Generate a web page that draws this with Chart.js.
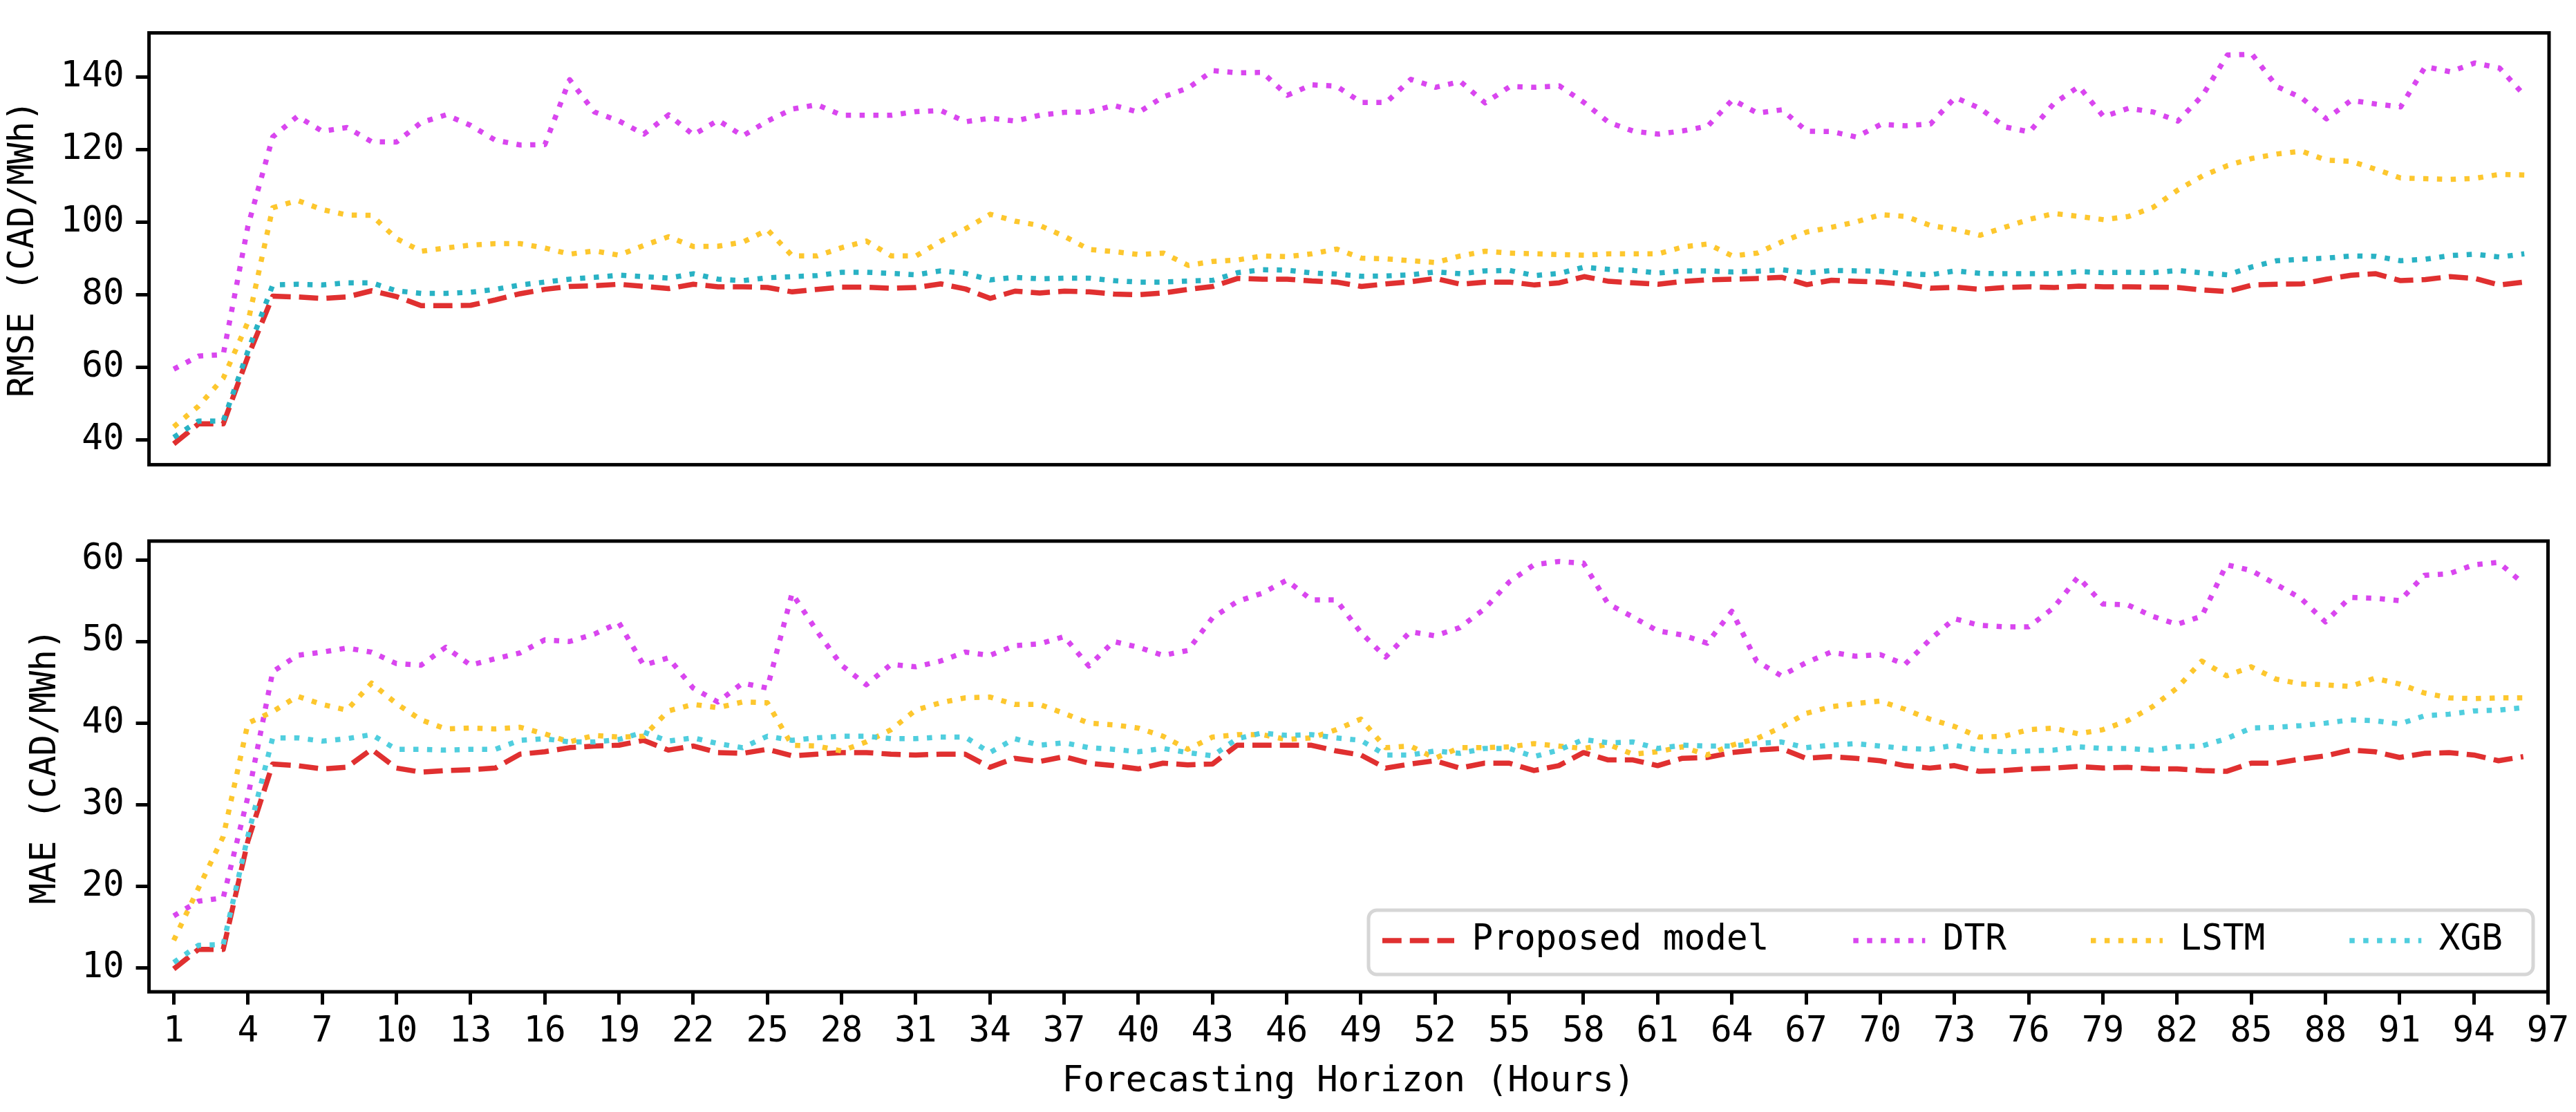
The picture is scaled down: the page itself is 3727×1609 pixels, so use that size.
<!DOCTYPE html>
<html>
<head>
<meta charset="utf-8">
<script src="https://cdn.jsdelivr.net/npm/chart.js@4.4.1/dist/chart.umd.min.js"></script>
<style>
html, body { margin: 0; padding: 0; background: #ffffff; }
#wrap { position: relative; width: 3727px; height: 1609px; overflow: hidden; background: #ffffff; }
canvas { position: absolute; left: 0; }
#cTop { top: 0; }
#cBottom { top: 720px; }
</style>
</head>
<body>
<div id="wrap">
  <canvas id="cTop" width="3727" height="720"></canvas>
  <canvas id="cBottom" width="3727" height="889"></canvas>
</div>
<script>
// ---------------- DATA ----------------
const horizons = [1,2,3,4,5,6,7,8,9,10,11,12,13,14,15,16,17,18,19,20,21,22,23,24,25,26,27,28,29,30,31,32,33,34,35,36,37,38,39,40,41,42,43,44,45,46,47,48,49,50,51,52,53,54,55,56,57,58,59,60,61,62,63,64,65,66,67,68,69,70,71,72,73,74,75,76,77,78,79,80,81,82,83,84,85,86,87,88,89,90,91,92,93,94,95,96];
const xTickValues = [1,4,7,10,13,16,19,22,25,28,31,34,37,40,43,46,49,52,55,58,61,64,67,70,73,76,79,82,85,88,91,94,97];
const rmseTickValues = [40,60,80,100,120,140];
const maeTickValues = [10,20,30,40,50,60];
const seriesNames = ['Proposed model', 'DTR', 'LSTM', 'XGB'];

const rmseProposed = [38.9,44.4,44.4,63.0,79.6,79.4,79.0,79.4,81.1,79.5,
  77.0,77.0,77.1,78.6,80.3,81.5,82.3,82.5,82.9,82.3,
  81.7,82.9,82.2,82.2,82.0,80.8,81.5,82.1,82.1,81.8,
  82.0,83.0,81.6,79.0,81.0,80.5,81.0,80.8,80.2,80.0,
  80.5,81.5,82.3,84.5,84.3,84.3,83.8,83.5,82.3,83.0,
  83.6,84.5,82.9,83.5,83.5,82.7,83.3,85.0,83.7,83.3,
  82.9,83.7,84.1,84.3,84.5,84.8,82.8,84.0,83.7,83.5,
  82.9,81.8,82.1,81.5,82.0,82.2,82.0,82.4,82.2,82.2,
  82.1,82.0,81.3,80.9,82.7,82.9,83.0,84.3,85.4,85.8,
  83.9,84.2,85.0,84.5,82.7,83.5];
const rmseDTR = [59.5,63.1,63.5,99.0,123.5,129.2,125.1,126.1,122.2,122.1,
  127.5,129.6,126.7,122.6,121.3,121.4,139.3,130.4,127.9,124.3,
  129.6,124.1,128.1,123.8,127.9,131.2,132.4,129.5,129.5,129.5,
  130.5,130.8,127.7,128.7,127.9,129.5,130.3,130.4,132.2,130.3,
  134.6,137.0,141.8,141.2,141.3,135.0,137.9,137.5,133.0,133.0,
  139.4,137.2,138.8,132.9,137.4,137.2,137.6,133.0,127.5,125.1,
  124.3,125.2,126.5,133.8,130.1,131.0,125.1,125.0,123.5,127.0,
  126.6,127.1,134.4,131.4,126.3,124.9,132.8,137.4,129.1,131.4,
  130.4,127.9,135.0,146.1,146.3,137.4,134.3,128.5,133.6,132.6,
  131.8,142.9,141.5,143.9,142.5,135.0];
const rmseLSTM = [43.6,49.3,57.0,72.5,104.0,106.0,103.5,102.0,101.9,95.5,
  92.0,92.9,93.7,94.1,94.1,92.9,91.2,92.1,90.9,93.6,
  96.0,93.3,93.4,94.5,97.9,90.7,90.7,93.0,94.8,90.7,
  90.7,94.8,98.2,102.2,100.3,99.1,96.1,92.5,91.9,91.1,
  91.5,88.1,89.2,89.6,90.7,90.5,91.3,92.6,90.1,89.9,
  89.4,88.9,90.7,92.0,91.5,91.3,91.1,90.9,91.3,91.3,
  91.3,93.2,94.0,90.7,91.5,94.6,97.3,98.6,100.1,102.1,
  101.6,99.1,98.0,96.4,98.6,100.8,102.4,101.6,100.7,101.6,
  104.1,108.9,112.8,115.6,117.6,118.8,119.6,117.1,116.8,114.6,
  112.2,112.0,111.8,112.1,113.2,113.0];
const rmseXGB = [40.7,45.2,45.2,64.5,82.7,82.9,82.7,83.3,83.3,81.1,
  80.4,80.4,80.7,81.5,82.7,83.5,84.3,84.8,85.4,85.0,
  84.6,85.8,84.3,83.9,84.7,85.0,85.3,86.2,86.2,85.9,
  85.5,86.6,85.9,84.1,84.8,84.4,84.6,84.6,83.9,83.5,
  83.5,83.8,84.0,86.1,86.9,86.8,86.0,85.7,85.1,85.2,
  85.5,86.3,85.8,86.6,86.7,85.3,85.9,87.6,87.0,86.7,
  86.0,86.6,86.6,86.3,86.5,86.9,86.0,86.7,86.6,86.5,
  85.8,85.5,86.6,85.9,85.8,85.8,85.8,86.4,86.1,86.2,
  86.1,86.7,86.0,85.5,87.7,89.4,89.8,90.1,90.7,90.6,
  89.4,89.8,90.8,91.2,90.4,91.3];

const maeProposed = [9.9,12.3,12.3,25.6,35.0,34.8,34.4,34.6,36.8,34.5,
  34.0,34.2,34.3,34.5,36.2,36.5,37.0,37.2,37.3,37.9,
  36.7,37.2,36.4,36.3,36.8,36.0,36.2,36.4,36.4,36.2,
  36.1,36.2,36.2,34.6,35.7,35.3,35.9,35.1,34.8,34.4,
  35.1,34.9,35.0,37.3,37.3,37.3,37.3,36.6,36.1,34.5,
  35.0,35.4,34.5,35.1,35.1,34.2,34.8,36.4,35.5,35.5,
  34.8,35.7,35.8,36.4,36.7,36.9,35.7,35.9,35.7,35.4,
  34.8,34.5,34.8,34.1,34.2,34.4,34.5,34.7,34.5,34.6,
  34.4,34.4,34.2,34.1,35.1,35.1,35.6,36.0,36.7,36.5,
  35.8,36.3,36.4,36.1,35.4,35.9];
const maeDTR = [16.4,18.2,18.6,31.0,46.3,48.3,48.7,49.2,48.7,47.3,
  47.1,49.3,47.1,47.9,48.6,50.2,50.0,50.9,52.3,47.1,
  48.0,44.3,42.6,44.9,44.3,55.9,51.3,47.1,44.7,47.2,
  46.9,47.6,48.7,48.3,49.5,49.7,50.6,47.0,50.0,49.3,
  48.3,48.9,52.9,54.9,55.9,57.5,55.1,55.1,51.1,48.1,
  51.2,50.7,51.7,54.0,57.3,59.4,59.8,59.6,54.6,53.0,
  51.3,50.8,49.8,53.7,47.6,45.8,47.4,48.7,48.2,48.4,
  47.2,50.2,52.8,52.0,51.8,51.8,54.1,57.9,54.6,54.5,
  53.1,52.1,53.1,59.4,58.7,57.0,55.3,52.4,55.4,55.3,
  55.0,58.1,58.3,59.4,59.7,57.1];
const maeLSTM = [13.4,19.8,26.1,40.0,41.4,43.3,42.3,41.6,44.9,42.4,
  40.4,39.3,39.4,39.3,39.5,38.7,37.7,38.5,38.3,38.4,
  41.5,42.3,41.9,42.6,42.5,37.3,37.2,36.6,37.7,39.2,
  41.6,42.5,43.1,43.2,42.3,42.3,41.2,40.0,39.8,39.4,
  38.4,36.8,38.3,38.6,38.6,38.0,38.2,39.2,40.5,37.0,
  37.2,35.7,37.0,37.0,37.1,37.5,37.2,36.9,37.4,36.2,
  36.5,37.1,36.1,37.3,38.1,39.5,41.2,42.0,42.4,42.7,
  41.7,40.5,39.6,38.3,38.4,39.2,39.4,38.7,39.2,40.3,
  42.0,44.3,47.6,45.8,46.9,45.4,44.8,44.7,44.5,45.5,
  44.8,43.7,43.1,43.0,43.1,43.1];
const maeXGB = [10.7,12.8,12.9,26.2,38.2,38.2,37.8,38.1,38.6,36.8,
  36.8,36.7,36.8,36.8,37.9,38.1,37.7,37.7,38.0,38.9,
  37.8,38.2,37.5,37.0,38.4,37.9,38.2,38.4,38.4,38.1,
  38.1,38.3,38.3,36.4,38.1,37.3,37.6,37.0,36.8,36.5,
  36.9,36.4,36.0,38.1,38.8,38.5,38.6,38.2,37.9,36.1,
  36.1,36.6,36.3,36.9,36.9,35.9,36.7,38.0,37.6,37.7,
  36.9,37.3,37.2,37.2,37.5,37.7,37.0,37.3,37.5,37.2,
  36.9,36.8,37.3,36.7,36.5,36.6,36.7,37.1,36.9,36.9,
  36.7,37.1,37.2,38.1,39.4,39.5,39.7,40.0,40.4,40.3,
  39.9,40.9,41.1,41.5,41.6,41.9];

// ---------------- STYLE ----------------
const FONT = "'DejaVu Sans Mono', monospace";
const FS = 51;
Chart.defaults.font.family = FONT;
Chart.defaults.font.size = FS;
Chart.defaults.color = '#000000';

const RED = '#e03030';
const MAGENTA = '#d946ef';
const YELLOW = '#fdc72e';
const CYAN_TOP = '#29b2c4';
const CYAN_BOTTOM = '#50cede';
const LW = 7.5;
const DASHED = [27.75, 12];
const DOTTED = [7.5, 12.4];

const PLOT_LEFT = 215.6;
const PAD_RIGHT = 39;
const X_MIN = 0, X_MAX = 97;

function makeDatasets(values, colors) {
  const dashes = [DASHED, DOTTED, DOTTED, DOTTED];
  return values.map((v, i) => ({
    label: seriesNames[i],
    data: v,
    borderColor: colors[i],
    backgroundColor: colors[i],
    borderWidth: LW,
    borderDash: dashes[i],
    borderCapStyle: 'butt',
    borderJoinStyle: 'round',
    pointRadius: 0,
    pointHoverRadius: 0,
    tension: 0,
    fill: false,
    order: 3 - i
  }));
}

function yScale(min, max, tickVals, title, titlePadTop) {
  return {
    type: 'linear', min: min, max: max,
    afterBuildTicks: s => { s.ticks = tickVals.map(v => ({ value: v })); },
    afterFit: s => { s.width = PLOT_LEFT; },
    grid: { display: true, drawOnChartArea: false, drawTicks: true, tickLength: 19, tickWidth: 5, tickColor: '#000000' },
    border: { display: false },
    ticks: { color: '#000000', padding: 17, font: { size: FS, family: FONT }, callback: v => String(v) },
    title: { display: true, text: title, color: '#000000', font: { size: FS, family: FONT }, padding: { top: titlePadTop, bottom: 0 } }
  };
}

const framePlugin = {
  id: 'frame',
  afterDatasetsDraw(chart) {
    const { ctx, chartArea: a } = chart;
    ctx.save();
    ctx.strokeStyle = '#000000';
    ctx.lineWidth = 5;
    ctx.setLineDash([]);
    ctx.strokeRect(a.left, a.top, a.right - a.left, a.bottom - a.top);
    ctx.restore();
  }
};

// legend placed inside the lower axes (bottom canvas coordinates)
const LEGEND_BOX = { left: 1980, right: 3665, top: 597, bottom: 690, radius: 12 };
const LEGEND_ITEM_X = 2000;
const LEGEND_ITEM_Y = 641;
const LEGEND_PAD = 122;

const insideLegend = {
  id: 'insideLegend',
  beforeLayout(chart) {
    const lg = chart.legend;
    if (lg && chart.boxes.includes(lg)) Chart.layouts.removeBox(chart, lg);
  },
  afterLayout(chart) {
    const lg = chart.legend;
    if (!lg) return;
    lg.update(3600, 800, { left: 0, right: 0, top: 0, bottom: 0 });
    lg.left = LEGEND_ITEM_X - LEGEND_PAD;
    lg.right = 4000;
    lg.top = LEGEND_ITEM_Y - LEGEND_PAD - FS / 2;
    lg.bottom = chart.height;
    lg.width = lg.right - lg.left;
    lg.height = lg.bottom - lg.top;
  },
  afterDraw(chart) {
    const ctx = chart.ctx;
    const b = LEGEND_BOX, r = b.radius;
    ctx.save();
    ctx.setLineDash([]);
    ctx.beginPath();
    ctx.moveTo(b.left + r, b.top);
    ctx.lineTo(b.right - r, b.top);
    ctx.arcTo(b.right, b.top, b.right, b.top + r, r);
    ctx.lineTo(b.right, b.bottom - r);
    ctx.arcTo(b.right, b.bottom, b.right - r, b.bottom, r);
    ctx.lineTo(b.left + r, b.bottom);
    ctx.arcTo(b.left, b.bottom, b.left, b.bottom - r, r);
    ctx.lineTo(b.left, b.top + r);
    ctx.arcTo(b.left, b.top, b.left + r, b.top, r);
    ctx.closePath();
    ctx.fillStyle = 'rgba(255,255,255,0.8)';
    ctx.fill();
    ctx.lineWidth = 5;
    ctx.strokeStyle = '#d6d6d6';
    ctx.stroke();
    ctx.restore();
    if (chart.legend) chart.legend.draw();
  }
};

function legendLabels(chart) {
  const items = Chart.defaults.plugins.legend.labels.generateLabels(chart);
  items.forEach(it => {
    const ds = chart.data.datasets[it.datasetIndex];
    it.lineDash = ds.borderDash;
    it.lineDashOffset = 0;
    it.lineWidth = ds.borderWidth;
    it.strokeStyle = ds.borderColor;
    it.fillStyle = 'rgba(0,0,0,0)';
    it.lineCap = 'butt';
    it.pointStyle = 'line';
  });
  return items;
}

// ---------------- TOP: RMSE ----------------
new Chart(document.getElementById('cTop'), {
  type: 'line',
  data: {
    labels: horizons,
    datasets: makeDatasets([rmseProposed, rmseDTR, rmseLSTM, rmseXGB], [RED, MAGENTA, YELLOW, CYAN_TOP])
  },
  options: {
    responsive: false,
    animation: false,
    events: [],
    layout: { autoPadding: false, padding: { left: 0, right: PAD_RIGHT, top: 25.4, bottom: 42.3 } },
    plugins: { legend: { display: false }, tooltip: { enabled: false }, title: { display: false } },
    scales: {
      x: { type: 'linear', min: X_MIN, max: X_MAX, display: false },
      y: yScale(33.15, 152.2, rmseTickValues, 'RMSE (CAD/MWh)', 4.4)
    }
  },
  plugins: [framePlugin]
});

// ---------------- BOTTOM: MAE ----------------
new Chart(document.getElementById('cBottom'), {
  type: 'line',
  data: {
    labels: horizons,
    datasets: makeDatasets([maeProposed, maeDTR, maeLSTM, maeXGB], [RED, MAGENTA, YELLOW, CYAN_BOTTOM])
  },
  options: {
    responsive: false,
    animation: false,
    events: [],
    layout: { autoPadding: false, padding: { left: 0, right: PAD_RIGHT, top: 62.9, bottom: 0 } },
    plugins: {
      tooltip: { enabled: false },
      title: { display: false },
      legend: {
        display: true,
        position: 'bottom',
        align: 'start',
        labels: {
          usePointStyle: true,
          pointStyle: 'line',
          pointStyleWidth: 104,
          padding: LEGEND_PAD,
          color: '#000000',
          font: { size: FS, family: FONT },
          generateLabels: legendLabels,
          sort: (a, b) => a.datasetIndex - b.datasetIndex
        }
      }
    },
    scales: {
      x: {
        type: 'linear', min: X_MIN, max: X_MAX,
        afterBuildTicks: s => { s.ticks = xTickValues.map(v => ({ value: v })); },
        afterFit: s => { s.height = 173.9; },
        grid: { display: true, drawOnChartArea: false, drawTicks: true, tickLength: 18.5, tickWidth: 5, tickColor: '#000000' },
        border: { display: false },
        ticks: { color: '#000000', padding: 9.8, maxRotation: 0, minRotation: 0, autoSkip: false, font: { size: FS, family: FONT }, callback: v => String(v) },
        title: { display: true, text: 'Forecasting Horizon (Hours)', color: '#000000', font: { size: FS, family: FONT }, padding: { top: 0, bottom: 12.4 } }
      },
      y: yScale(7.1, 62.3, maeTickValues, 'MAE (CAD/MWh)', 36.4)
    }
  },
  plugins: [framePlugin, insideLegend]
});
</script>
</body>
</html>
